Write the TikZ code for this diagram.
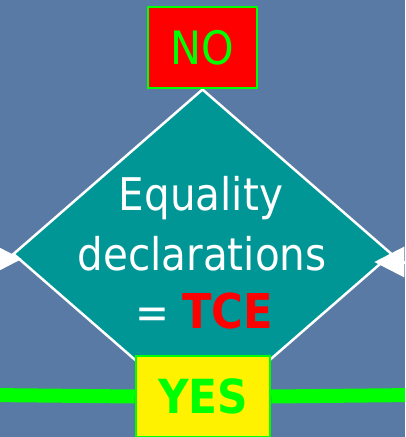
\documentclass[tikz,border=0pt]{standalone}
\usepackage{fontspec}
\setmainfont{DejaVu Sans Condensed}
\usetikzlibrary{shapes.geometric,arrows.meta}
\definecolor{bg}{RGB}{90,122,166}
\definecolor{tealfill}{RGB}{0,150,150}
\definecolor{lime}{RGB}{0,255,0}
\begin{document}
\begin{tikzpicture}[x=1pt,y=-1pt,
  decision/.style={diamond, fill=tealfill, draw=white, line width=2.5pt, minimum width=379pt, minimum height=330pt, inner sep=0pt},
  labelbox/.style={rectangle, draw=lime, line width=2.5pt, inner sep=0pt, text=lime},
  bodytext/.style={anchor=base, text=white, inner sep=0pt, font=\fontsize{45}{45}\selectfont},
  inarrow/.style={white, line width=3pt, -{Triangle[length=#1,width=#1]}},
  greenline/.style={lime, line width=14pt}]
\useasboundingbox (0,0) rectangle (405,437);
\clip (0,0) rectangle (405,437);
\fill[bg] (0,0) rectangle (405,437);
\node[decision] (dia) at (202.5,254) {};
\node[bodytext] (t1) at (201,210) {Equality};
\node[bodytext] (t2) at (202,270) {declarations};
\node[bodytext] (t3) at (204,328) {= \textcolor{red}{\fontsize{48}{48}\selectfont\bfseries TCE}};
\node[labelbox, fill=red, minimum width=109pt, minimum height=81pt, font=\fontsize{46}{46}\selectfont] (no) at (202.5,47.5) {NO};
\node[labelbox, fill=yellow, minimum width=134pt, minimum height=81pt, font=\fontsize{47}{47}\selectfont\bfseries] (yes) at (203,396.5) {YES};
\coordinate (lin) at (-40,259);
\coordinate (rin) at (450,262);
\coordinate (gl) at (-10,395);
\coordinate (gr) at (415,395);
\draw[inarrow=26pt] (lin) -- ([shift={(10,5)}]dia.west);
\draw[inarrow=30pt] (rin) -- ([shift={(-19,8)}]dia.east);
\draw[greenline] (gl) -- (yes.west);
\draw[greenline] (yes.east) -- (gr);
\end{tikzpicture}
\end{document}
